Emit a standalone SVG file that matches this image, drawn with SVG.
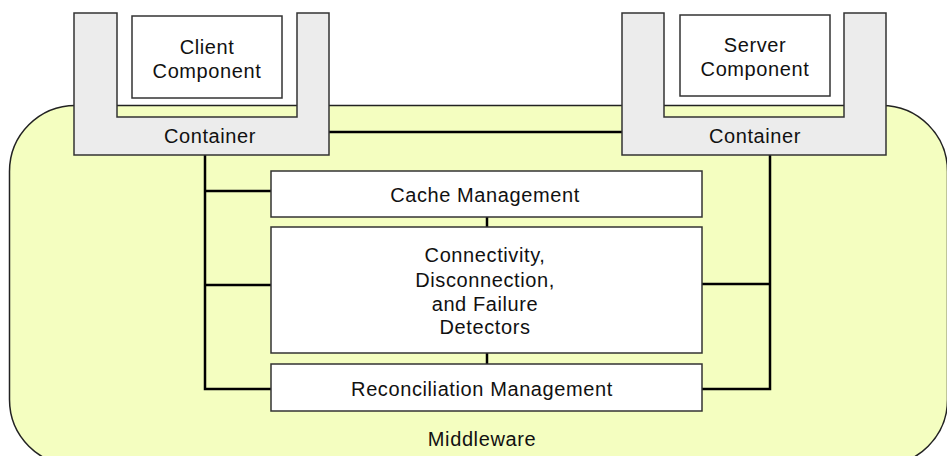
<svg xmlns="http://www.w3.org/2000/svg" width="947" height="456" viewBox="0 0 947 456">
<style>
text{font-family:"Liberation Sans",Arial,sans-serif;font-size:20px;fill:#111;text-anchor:middle;letter-spacing:0.6px}
.cont{fill:#ececec;stroke:#333;stroke-width:1.5}
.box{fill:#fff;stroke:#333;stroke-width:1.5}
.wire{stroke:#000;stroke-width:2.5;fill:none}
</style>
<g id="middleware">
<rect x="9.5" y="105.5" width="938" height="360" rx="66" ry="66" fill="#f4fec0" stroke="#222" stroke-width="1.5"/>
<text x="482" y="446">Middleware</text>
</g>
<g id="connectors">
<line class="wire" x1="329" y1="132" x2="622" y2="132"/>
<polyline class="wire" points="205,155 205,389 271,389"/>
<line class="wire" x1="205" y1="191" x2="271" y2="191"/>
<line class="wire" x1="205" y1="285" x2="271" y2="285"/>
<polyline class="wire" points="770,155 770,389 702,389"/>
<line class="wire" x1="702" y1="284" x2="770" y2="284"/>
<line class="wire" x1="487" y1="217" x2="487" y2="227"/>
<line class="wire" x1="487" y1="353" x2="487" y2="364"/>
</g>
<g id="client-container">
<path class="cont" d="M74,13 H117 V117 H297 V13 H329 V155 H74 Z"/>
<text x="210" y="143">Container</text>
</g>
<g id="client-component">
<rect class="box" x="132" y="16" width="150" height="82"/>
<text x="207" y="54">Client</text>
<text x="207" y="78">Component</text>
</g>
<g id="server-container">
<path class="cont" d="M622,13 H664 V117 H844 V13 H886 V155 H622 Z"/>
<text x="755" y="143">Container</text>
</g>
<g id="server-component">
<rect class="box" x="680" y="15" width="150" height="81"/>
<text x="755" y="52">Server</text>
<text x="755" y="76">Component</text>
</g>
<g id="cache-management">
<rect class="box" x="271" y="171" width="431" height="46"/>
<text x="485" y="202">Cache Management</text>
</g>
<g id="detectors">
<rect class="box" x="271" y="227" width="431" height="126"/>
<text x="485" y="262">Connectivity,</text>
<text x="485" y="287">Disconnection,</text>
<text x="485" y="311">and Failure</text>
<text x="485" y="334">Detectors</text>
</g>
<g id="reconciliation-management">
<rect class="box" x="271" y="364" width="431" height="47"/>
<text x="482" y="396">Reconciliation Management</text>
</g>
</svg>
